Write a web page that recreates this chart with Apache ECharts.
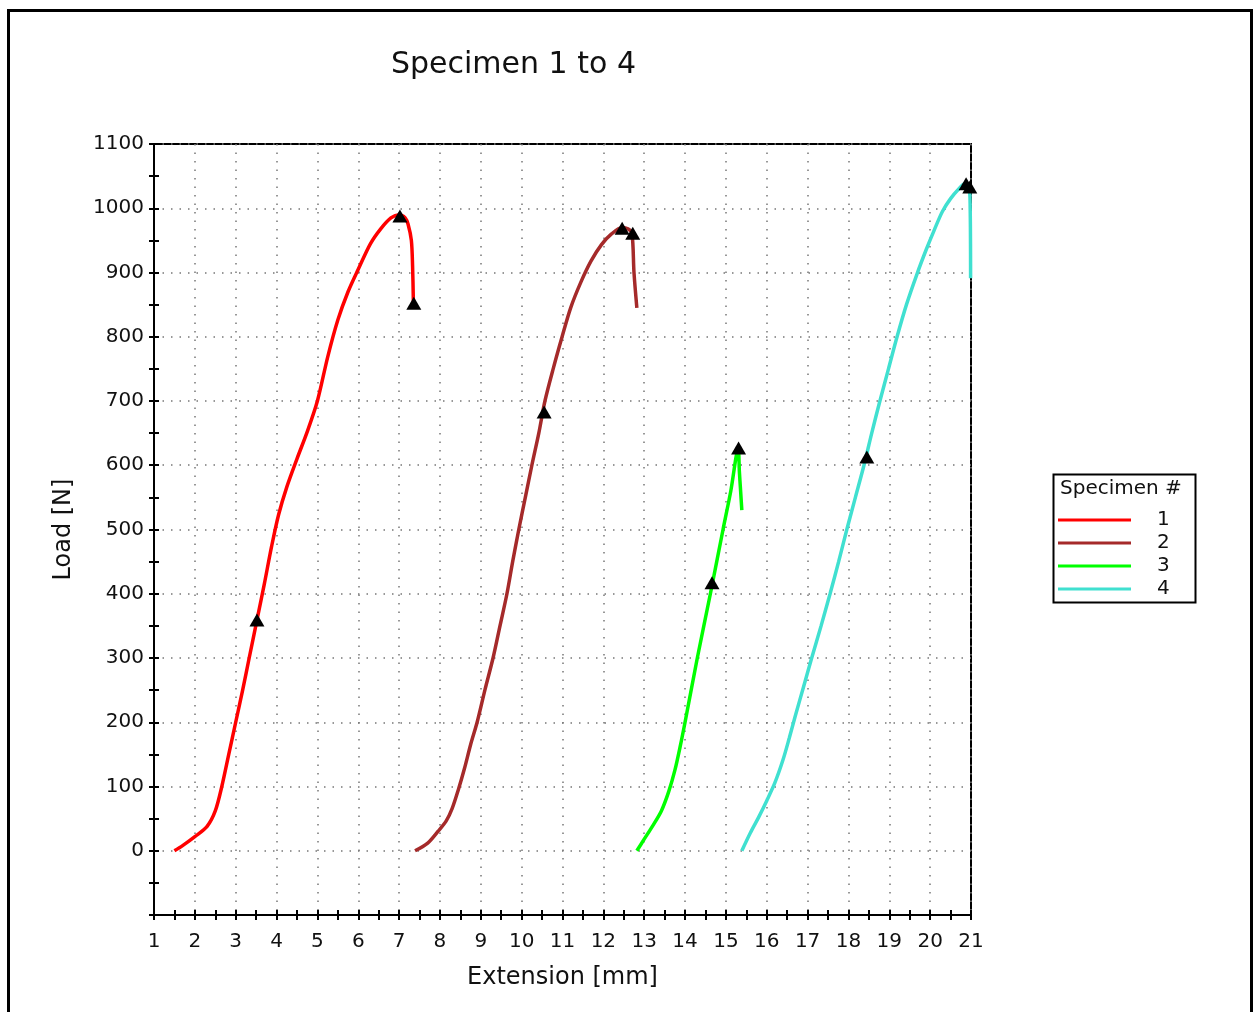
<!DOCTYPE html>
<html>
<head>
<meta charset="utf-8">
<title>Specimen 1 to 4</title>
<script src="https://cdn.jsdelivr.net/npm/echarts@6/dist/echarts.min.js"></script>
<style>
  html, body { margin: 0; padding: 0; background: #fff; }
  #chart { width: 1258px; height: 1012px; }
</style>
</head>
<body>
<div id="chart"></div>
<script>
// 数据：每条曲线 [伸长 mm, 载荷 N]
let specimen1 = [[1.5,0],[1.7,8],[2.0,22],[2.3,38],[2.5,62],[2.66,100],[2.83,150],[3.0,200],[3.17,250],[3.33,300],[3.52,359],[3.7,415],[3.88,474],[4.05,523],[4.25,566],[4.5,610],[4.75,652],[5.0,700],[5.25,768],[5.5,826],[5.75,870],[6.0,905],[6.3,945],[6.55,968],[6.8,985],[7.0,990],[7.15,985],[7.22,975],[7.3,950],[7.33,910],[7.35,852]]
let specimen2 = [[7.39,0],[7.7,12],[7.95,30],[8.15,46],[8.3,66],[8.45,95],[8.6,128],[8.75,165],[8.91,200],[9.1,250],[9.3,300],[9.47,350],[9.64,400],[9.78,450],[9.93,500],[10.09,550],[10.25,600],[10.42,650],[10.57,700],[10.78,752],[10.99,800],[11.2,845],[11.45,885],[11.7,918],[11.95,943],[12.2,960],[12.46,970],[12.6,968],[12.7,961],[12.75,900],[12.82,845]]
let specimen3 = [[12.82,0],[13.0,18],[13.2,38],[13.42,62],[13.6,92],[13.75,125],[13.88,162],[14.0,200],[14.3,300],[14.62,400],[14.93,500],[15.12,560],[15.3,625],[15.33,590],[15.36,560],[15.39,530]]
let specimen4 = [[15.39,0],[15.6,28],[15.8,52],[16.0,78],[16.2,106],[16.4,142],[16.55,175],[16.7,210],[16.9,255],[17.1,300],[17.33,350],[17.55,400],[17.76,450],[17.96,500],[18.17,550],[18.38,600],[18.57,650],[18.77,700],[18.98,750],[19.19,800],[19.42,850],[19.68,898],[19.9,935],[20.1,966],[20.3,995],[20.5,1015],[20.7,1030],[20.85,1038],[20.95,1035],[20.98,1000],[20.99,891]]
// 三角标记点
let markers1 = [[3.52,359],[7.02,988],[7.36,852]]
let markers2 = [[10.55,683],[12.46,969],[12.72,961]]
let markers3 = [[14.66,417],[15.31,627]]
let markers4 = [[18.45,613],[20.88,1038],[20.97,1033]]

let specimenNames = ['1', '2', '3', '4']
let specimenColors = ['#ff0000', '#a52a2a', '#00ff00', '#40e0d0']
let xTicks = [1, 21, 1]      // min, max, interval
let yTicks = [-100, 1100, 100]

let font = 'DejaVu Sans, Verdana, sans-serif'

let axisBase = {
  axisLine: { show: true, onZero: false, lineStyle: { color: '#000', width: 2 } },
  axisTick: { show: true, length: 5, lineStyle: { color: '#000', width: 2 } },
  minorTick: { show: true, splitNumber: 2, length: 5, lineStyle: { color: '#000', width: 2 } }
}
let gridLine = { show: true, lineStyle: { color: '#777', type: [1.5, 7], width: 1.5 } }

let xAxisMain = Object.assign({}, axisBase, {
  type: 'value',
  min: xTicks[0], max: xTicks[1], interval: xTicks[2],
  name: 'Extension [mm]',
  nameLocation: 'middle',
  nameGap: 51,
  nameTextStyle: { fontFamily: font, fontSize: 24, color: '#111' },
  axisLabel: { margin: 17, fontFamily: font, fontSize: 20, color: '#111' },
  splitLine: gridLine
})
let xAxisInner = Object.assign({}, axisBase, {
  type: 'value',
  min: xTicks[0], max: xTicks[1], interval: xTicks[2],
  position: 'bottom',
  axisTick: Object.assign({}, axisBase.axisTick, { inside: true }),
  axisLabel: { show: false },
  splitLine: { show: false }
})
let yAxisMain = Object.assign({}, axisBase, {
  type: 'value',
  min: yTicks[0], max: yTicks[1], interval: yTicks[2],
  name: 'Load [N]',
  nameLocation: 'middle',
  nameGap: 78,
  nameTextStyle: { fontFamily: font, fontSize: 24, color: '#111' },
  axisLabel: {
    margin: 10, fontFamily: font, fontSize: 20, color: '#111',
    formatter: function (v) { return v < 0 ? '' : v }
  },
  splitLine: gridLine
})
let yAxisInner = Object.assign({}, axisBase, {
  type: 'value',
  min: yTicks[0], max: yTicks[1], interval: yTicks[2],
  position: 'left',
  axisTick: Object.assign({}, axisBase.axisTick, { inside: true }),
  axisLabel: { show: false },
  splitLine: { show: false }
})

function lineSeries(name, data, color) {
  return {
    name: name,
    type: 'line',
    data: data,
    showSymbol: false,
    symbol: 'none',
    smooth: 0.3,
    color: color,
    lineStyle: { color: color, width: 3.5 },
    z: 3
  }
}
function markerSeries(data) {
  return {
    type: 'scatter',
    data: data,
    symbol: 'triangle',
    symbolSize: [15, 13],
    itemStyle: { color: '#000', opacity: 1 },
    z: 4
  }
}

let options = {
  animation: false,
  backgroundColor: '#fff',
  title: {
    text: 'Specimen 1 to 4',
    left: 386,
    top: 45,
    textStyle: { fontFamily: font, fontSize: 30, fontWeight: 'normal', color: '#111' }
  },
  grid: {
    left: 154, top: 144, width: 817, height: 771,
    show: true, borderColor: '#000', borderWidth: 2, backgroundColor: 'transparent'
  },
  legend: {
    data: specimenNames,
    orient: 'vertical',
    left: 1053,
    top: 505,
    icon: 'rect',
    itemWidth: 73,
    itemHeight: 3,
    itemGap: 3,
    textStyle: { fontFamily: font, fontSize: 20, color: '#111', lineHeight: 20, padding: [0, 0, 0, 21] }
  },
  graphic: [
    { type: 'rect', shape: { x: 8.5, y: 10.5, width: 1243, height: 1020 }, style: { fill: 'none', stroke: '#000', lineWidth: 3 } },
    { type: 'rect', shape: { x: 1053.5, y: 474.5, width: 142, height: 128 }, style: { fill: 'none', stroke: '#000', lineWidth: 2 } },
    { type: 'text', left: 1060, top: 479, style: { text: 'Specimen #', font: '20px ' + font, fill: '#111' } }
  ],
  xAxis: [xAxisMain, xAxisInner],
  yAxis: [yAxisMain, yAxisInner],
  series: [
    lineSeries(specimenNames[0], specimen1, specimenColors[0]),
    lineSeries(specimenNames[1], specimen2, specimenColors[1]),
    lineSeries(specimenNames[2], specimen3, specimenColors[2]),
    lineSeries(specimenNames[3], specimen4, specimenColors[3]),
    markerSeries(markers1),
    markerSeries(markers2),
    markerSeries(markers3),
    markerSeries(markers4)
  ]
}

let chartDom = document.getElementById('chart')
let myChart = echarts.init(chartDom)
myChart.setOption(options)
</script>
</body>
</html>
